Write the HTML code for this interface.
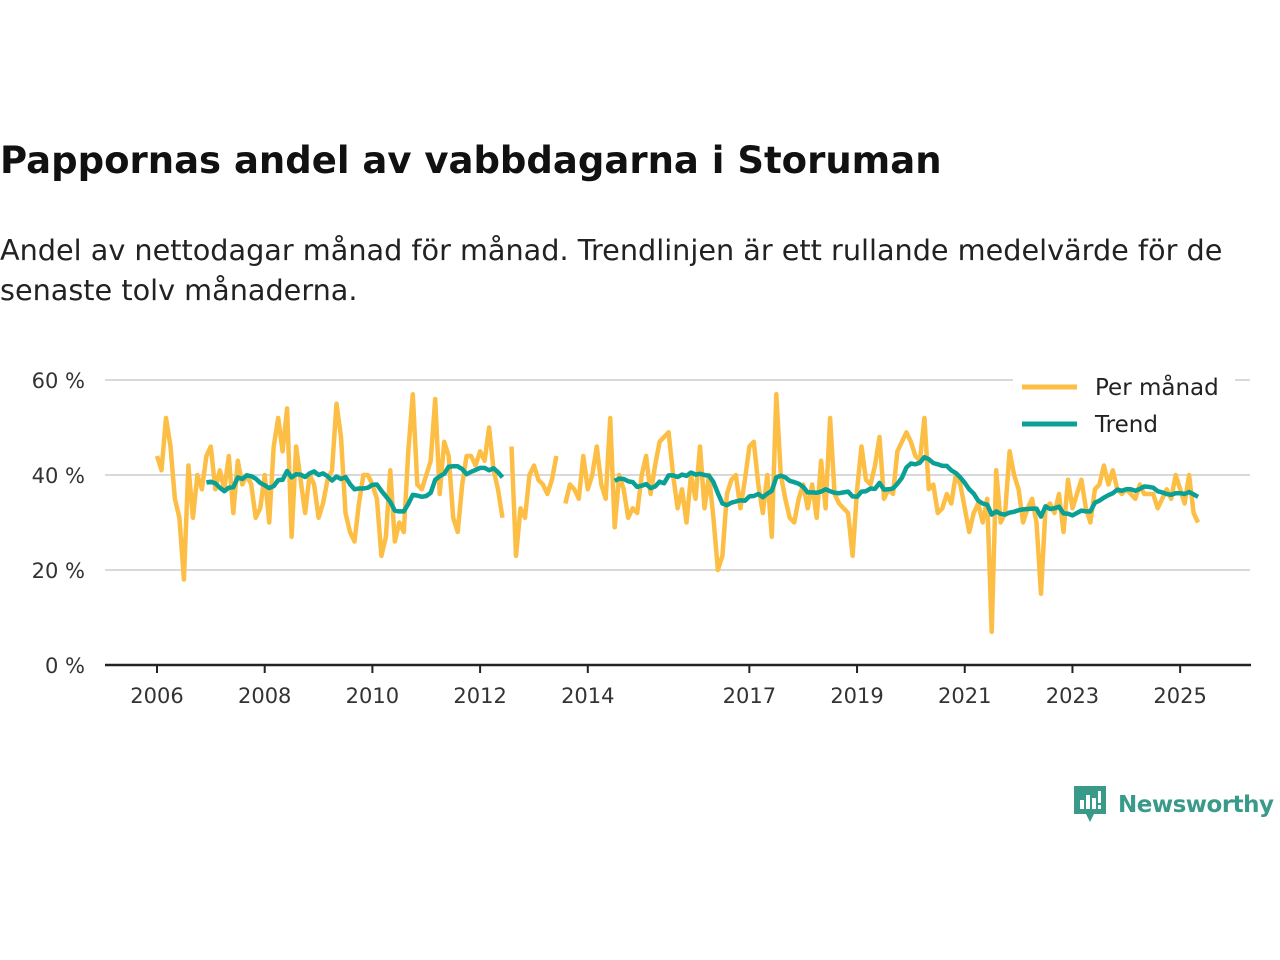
<!DOCTYPE html>
<html><head><meta charset="utf-8"><style>
body{margin:0;width:1280px;height:960px;background:#fff;font-family:"Liberation Sans","DejaVu Sans",sans-serif;overflow:hidden;position:relative}
h1{position:absolute;left:0;top:139px;margin:0;font-size:37px;font-weight:bold;color:#111;font-family:"DejaVu Sans","Liberation Sans",sans-serif;letter-spacing:0px}
.sub{position:absolute;left:0;top:230px;margin:0;font-size:28.7px;line-height:40px;color:#222;font-family:"DejaVu Sans","Liberation Sans",sans-serif;width:1270px}
svg text{font-family:"DejaVu Sans","Liberation Sans",sans-serif}
</style></head><body>
<h1>Pappornas andel av vabbdagarna i Storuman</h1>
<p class="sub">Andel av nettodagar månad för månad. Trendlinjen är ett rullande medelvärde för de senaste tolv månaderna.</p>
<svg id="chart" width="1280" height="960" style="position:absolute;left:0;top:0"></svg>
<div style="position:absolute;left:1072px;top:784px;height:42px;display:flex;align-items:center">
<svg width="36" height="42" viewBox="0 0 36 42"><path d="M2 2h32v28H22l-4 8-4-8H2z" fill="#3a9a8a"/><rect x="8" y="16" width="4" height="9" fill="#fff"/><rect x="14" y="11" width="4" height="14" fill="#fff"/><rect x="20" y="14" width="4" height="11" fill="#fff"/><rect x="26" y="7" width="3" height="12" fill="#fff"/><rect x="26" y="21" width="3" height="4" fill="#fff"/></svg>
<span style="font-size:23px;font-weight:bold;color:#3a9a8a;margin-left:10px;font-family:'DejaVu Sans','Liberation Sans',sans-serif;letter-spacing:-0.5px">Newsworthy</span></div>
<script>
const startYear=2006;
const yTicks=[0,20,40,60];
const xTickYears=[2006,2008,2010,2012,2014,2017,2019,2021,2023,2025];
const perMonth=[
44,41,52,46,35,31,18,42,31,40,37,44,
46,37,41,37,44,32,43,38,40,38,31,33,
40,30,46,52,45,54,27,46,39,32,40,38,
31,34,39,41,55,48,32,28,26,34,40,40,
38,35,23,27,41,26,30,28,45,57,38,37,
40,43,56,36,47,44,31,28,38,44,44,42,
45,43,50,41,37,31,null,46,23,33,31,40,
42,39,38,36,39,44,null,34,38,37,35,44,
37,40,46,38,35,52,29,40,37,31,33,32,
40,44,36,42,47,48,49,40,33,37,30,40,
35,46,33,40,31,20,23,36,39,40,33,39,
46,47,38,32,40,27,57,40,35,31,30,35,
38,33,38,31,43,33,52,36,34,33,32,23,
37,46,39,38,42,48,35,37,36,45,47,49,
47,44,43,52,37,38,32,33,36,34,40,38,
33,28,32,34,30,35,7,41,30,32,45,40,
37,30,33,35,30,15,33,34,32,36,28,39,
33,36,39,33,30,37,38,42,38,41,37,36,
37,36,35,38,36,36,36,33,35,37,35,40,
37,34,40,32,30];
const svg=document.getElementById('chart');
const NS='http://www.w3.org/2000/svg';
const x=t=>157+(t-2006)*53.85;
const y=v=>665-v*4.75;
function el(tag,attrs,parent){const e=document.createElementNS(NS,tag);for(const k in attrs)e.setAttribute(k,attrs[k]);(parent||svg).appendChild(e);return e;}
yTicks.forEach(v=>{
 if(v>0){const g=el('line',{x1:105,x2:1250,y1:y(v),y2:y(v),stroke:'#d9d9d9','stroke-width':2});
 
 }
 const t=el('text',{x:85,y:y(v)+8,'text-anchor':'end','font-size':21,fill:'#333'});t.textContent=v+' %';
 
 
});
const ax=el('line',{x1:105,x2:1251,y1:665,y2:665,stroke:'#222','stroke-width':2.5});


xTickYears.forEach(yr=>{
 el('line',{x1:x(yr),x2:x(yr),y1:665,y2:673,stroke:'#222','stroke-width':2});
 const t=el('text',{x:x(yr),y:703,'text-anchor':'middle','font-size':21,fill:'#333'});t.textContent=yr;
 
 
});
function path(vals,color,name){
 let d='',pen=false;
 vals.forEach((v,i)=>{if(v==null){pen=false;return;}const px=x(startYear+i/12),py=y(v);d+=(pen?'L':'M')+px.toFixed(1)+' '+py.toFixed(1);pen=true;});
 const p=el('path',{d:d,fill:'none',stroke:color,'stroke-width':4.5,'stroke-linejoin':'round'});
 
 
}
const trend=perMonth.map((v,i)=>{if(i<11)return null;let s=0;for(let k=i-11;k<=i;k++){if(perMonth[k]==null)return null;s+=perMonth[k];}return s/12;});
path(perMonth,'#fdbe45','per-month-line');
path(trend,'#0aa095','trend-line');
const lg=el('rect',{x:1013,y:368,width:222,height:75,fill:'#fff'});


[['Per månad','#fdbe45',387],['Trend','#0aa095',424]].forEach(([n,c,yy])=>{
 el('line',{x1:1022,x2:1077,y1:yy,y2:yy,stroke:c,'stroke-width':5});
 const t=el('text',{x:1095,y:yy+8,'font-size':23,fill:'#222'});t.textContent=n;
 
 
});
</script>
</body></html>
